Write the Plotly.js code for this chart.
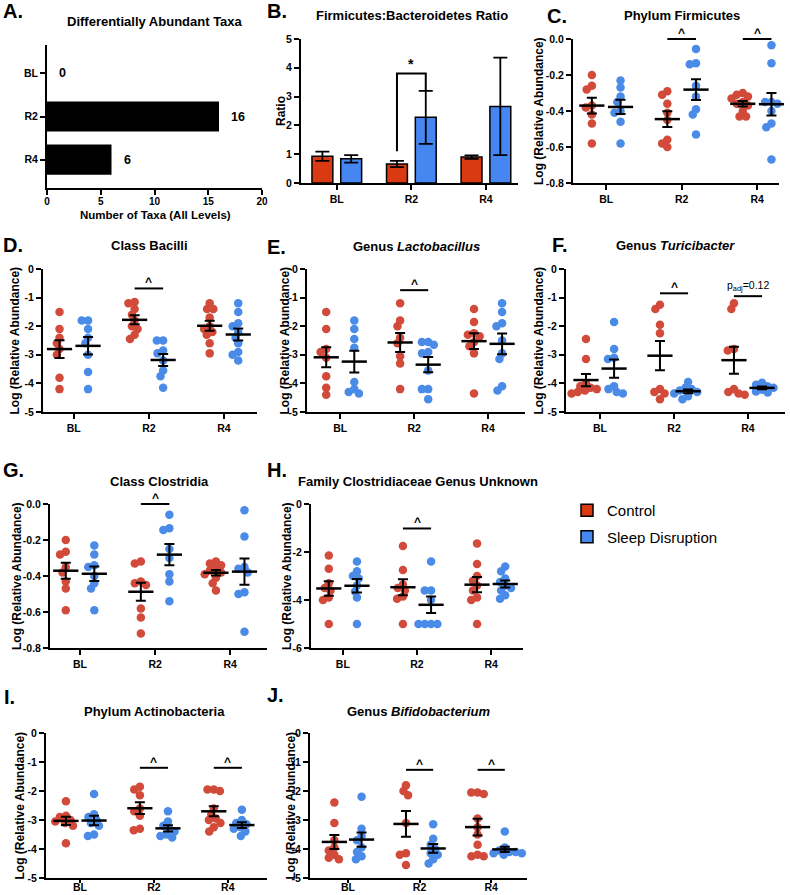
<!DOCTYPE html>
<html><head><meta charset="utf-8">
<script src="https://cdn.plot.ly/plotly-3.0.1.min.js"></script>
<style>html,body{margin:0;padding:0;background:#fff}#chart{width:790px;height:895px}</style>
</head><body><div id="chart"></div>
<script>
// ---------------- DATA ----------------
const categories = ['BL', 'R2', 'R4'];
const groupNames = ['Control', 'Sleep Disruption'];

// A. Differentially abundant taxa
const taxaCounts = [0, 16, 6];

// B. Firmicutes:Bacteroidetes ratio (mean, SEM)
const ratioControl = [0.93, 0.66, 0.90];
const ratioControlSem = [0.16, 0.11, 0.06];
const ratioSleep = [0.84, 2.28, 2.66];
const ratioSleepSem = [0.13, 0.92, 1.69];

// C. Phylum Firmicutes  (per time point: BL, R2, R4)
const firmicutesControl = [
  [-0.20, -0.26, -0.28, -0.37, -0.38, -0.42, -0.47, -0.58],
  [-0.29, -0.31, -0.36, -0.41, -0.45, -0.56, -0.58, -0.60],
  [-0.30, -0.31, -0.32, -0.33, -0.35, -0.36, -0.37, -0.40, -0.43, -0.43]];
const firmicutesSleep = [
  [-0.23, -0.27, -0.32, -0.35, -0.40, -0.41, -0.46, -0.58],
  [-0.055, -0.135, -0.14, -0.26, -0.32, -0.39, -0.42, -0.53],
  [-0.035, -0.135, -0.35, -0.35, -0.36, -0.40, -0.47, -0.49, -0.67]];

// D. Class Bacilli
const bacilliControl = [
  [-1.5, -2.1, -2.4, -2.6, -2.8, -3.0, -3.8, -4.2],
  [-1.15, -1.2, -1.4, -1.6, -1.8, -2.0, -2.1, -2.3, -2.45],
  [-1.2, -1.4, -1.4, -1.7, -2.0, -2.1, -2.2, -2.3, -2.6, -2.95]];
const bacilliSleep = [
  [-1.8, -1.8, -2.1, -2.4, -2.6, -3.0, -3.6, -4.2],
  [-2.5, -2.5, -2.85, -2.95, -3.2, -3.55, -3.75, -4.15],
  [-1.2, -1.5, -1.9, -2.0, -2.2, -2.4, -2.6, -2.9, -3.0, -3.2]];

// E. Genus Lactobacillus
const lactobacillusControl = [
  [-1.5, -2.1, -2.8, -2.9, -3.1, -3.75, -4.15, -4.4],
  [-1.2, -1.8, -2.0, -2.4, -2.6, -3.05, -3.3, -4.2],
  [-1.4, -1.85, -2.25, -2.3, -2.35, -2.55, -2.7, -2.95, -4.35]];
const lactobacillusSleep = [
  [-1.8, -2.1, -2.45, -2.75, -3.95, -4.2, -4.3, -4.35],
  [-2.55, -2.55, -2.65, -2.9, -2.95, -3.55, -4.2, -4.2, -4.55],
  [-1.2, -1.5, -1.9, -2.0, -2.5, -2.95, -3.15, -4.1, -4.25]];

// F. Genus Turicibacter
const turicibacterControl = [
  [-2.45, -3.15, -4.0, -4.1, -4.15, -4.2, -4.25, -4.3, -4.35],
  [-1.25, -1.4, -1.95, -2.25, -4.2, -4.3, -4.35, -4.55],
  [-1.2, -1.4, -2.8, -2.85, -4.2, -4.3, -4.35, -4.4]];
const turicibacterSleep = [
  [-1.85, -2.8, -3.1, -3.15, -4.1, -4.2, -4.3, -4.35],
  [-3.95, -4.15, -4.2, -4.25, -4.3, -4.35, -4.45, -4.55],
  [-3.98, -4.05, -4.1, -4.15, -4.22, -4.28, -4.32]];

// G. Class Clostridia
const clostridiaControl = [
  [-0.20, -0.265, -0.28, -0.35, -0.38, -0.43, -0.47, -0.59],
  [-0.32, -0.33, -0.43, -0.44, -0.45, -0.58, -0.63, -0.72],
  [-0.32, -0.33, -0.34, -0.36, -0.37, -0.38, -0.39, -0.41, -0.44, -0.48]];
const clostridiaSleep = [
  [-0.23, -0.28, -0.34, -0.35, -0.40, -0.44, -0.47, -0.59],
  [-0.06, -0.135, -0.145, -0.25, -0.30, -0.39, -0.43, -0.54],
  [-0.035, -0.18, -0.35, -0.36, -0.38, -0.49, -0.50, -0.71]];

// H. Family Clostridiaceae Genus Unknown
const clostridiaceaeControl = [
  [-2.15, -2.7, -3.3, -3.5, -3.6, -3.9, -4.0, -5.0],
  [-1.75, -2.75, -3.35, -3.5, -3.6, -3.85, -3.95, -5.0],
  [-1.65, -2.5, -3.0, -3.2, -3.4, -3.6, -3.9, -4.0, -5.0]];
const clostridiaceaeSleep = [
  [-2.4, -2.8, -3.0, -3.1, -3.4, -3.65, -3.9, -5.0],
  [-2.4, -3.6, -3.6, -4.0, -5.0, -5.0, -5.0, -5.0],
  [-2.6, -2.8, -3.1, -3.25, -3.4, -3.5, -3.6, -3.8, -3.95]];

// I. Phylum Actinobacteria
const actinobacteriaControl = [
  [-2.35, -2.85, -2.9, -3.0, -3.05, -3.1, -3.2, -3.8],
  [-1.85, -1.95, -2.15, -2.6, -2.7, -2.85, -3.3, -3.35],
  [-1.95, -1.95, -2.0, -2.6, -2.8, -2.95, -3.0, -3.1, -3.25, -3.4]];
const actinobacteriaSleep = [
  [-2.1, -2.8, -2.9, -3.0, -3.1, -3.2, -3.5, -3.55],
  [-2.7, -3.05, -3.2, -3.3, -3.4, -3.5, -3.55, -3.6],
  [-2.65, -3.0, -3.1, -3.15, -3.25, -3.3, -3.4, -3.55]];

// J. Genus Bifidobacterium
const bifidobacteriumControl = [
  [-2.4, -3.1, -3.7, -3.95, -4.05, -4.2, -4.3, -4.35],
  [-1.8, -2.0, -2.15, -3.1, -4.15, -4.2, -4.55],
  [-2.05, -2.05, -2.1, -2.95, -3.25, -3.5, -3.85, -4.2, -4.25, -4.25]];
const bifidobacteriumSleep = [
  [-2.2, -3.3, -3.55, -3.7, -3.95, -4.1, -4.25, -4.35],
  [-3.15, -3.65, -3.85, -4.0, -4.15, -4.2, -4.35, -4.5],
  [-3.4, -3.95, -4.05, -4.1, -4.1, -4.15, -4.15, -4.2]];

// significance marks: panel, time point index, level, label
const sigPanels = ['C', 'C', 'D', 'E', 'F', 'F', 'G', 'H', 'I', 'I', 'J', 'J'];
const sigCats = [1, 2, 1, 1, 1, 2, 1, 1, 1, 2, 1, 2];
const sigLevels = [0.0, 0.0, -0.68, -0.74, -0.85, -0.95, 0.0, -1.02, -1.2, -1.2, -1.27, -1.27];
const sigLabels = ['^', '^', '^', '^', '^', 'p<sub>adj</sub>=0.12', '^', '^', '^', '^', '^', '^'];

// ---------------- STYLE / LAYOUT ----------------
const FONT = 'Liberation Sans, Arial, Helvetica, sans-serif';
const RED_BAR = '#d93a12', BLUE_BAR = '#4686f0';
const RED_DOT = '#d14a3a', BLUE_DOT = '#4b8be8';
const W = 790, H = 895;
const GOFF = 0.19; // group offset within a time point (category units)

// pixel geometry of each panel (layout only)
const geo = {
  A: {ax: 1, x: [47, 262], y: [45, 188]},
  B: {ax: 2, x: [301, 518], y: [39, 183], xr: [-0.48, 2.43]},
  C: {ax: 3, x: [573, 779], y: [39, 183], xr: [-0.44, 2.29]},
  D: {ax: 4, x: [43, 257], y: [269, 412], xr: [-0.41, 2.44]},
  E: {ax: 5, x: [307, 525], y: [269, 412], xr: [-0.45, 2.5]},
  F: {ax: 6, x: [566, 785], y: [269, 412], xr: [-0.46, 2.5]},
  G: {ax: 7, x: [50, 267], y: [504, 648], xr: [-0.4, 2.49]},
  H: {ax: 8, x: [311, 523], y: [504, 648], xr: [-0.43, 2.43]},
  I: {ax: 9, x: [46, 267], y: [733, 878], xr: [-0.46, 2.53], tight: true},
  J: {ax: 10, x: [310, 527], y: [733, 878], xr: [-0.53, 2.5], tight: true}
};
// title / letter / y-title positions (pixels)
const labelsPos = {
  A: {t: [155, 22], l: [1, 11], yt: null},
  B: {t: [412, 16], l: [265, 11], yt: 281},
  C: {t: [682, 16], l: [545, 16], yt: 539},
  D: {t: [149, 245], l: [1, 245], yt: 15},
  E: {t: [416, 246], l: [265, 247], yt: 285},
  F: {t: [675, 245], l: [550, 245], yt: 539},
  G: {t: [159, 481], l: [1, 470], yt: 17},
  H: {t: [418, 481], l: [265, 470], yt: 287},
  I: {t: [154, 711], l: [2, 697], yt: 19},
  J: {t: [418, 711], l: [265, 695], yt: 290}
};

const scatterPanels = [
  {key: 'C', ctrl: firmicutesControl, sleep: firmicutesSleep, title: 'Phylum Firmicutes', yr: [-0.8, 0], dt: 0.2, dec: 1},
  {key: 'D', ctrl: bacilliControl, sleep: bacilliSleep, title: 'Class Bacilli', yr: [-5, 0], dt: 1, dec: 0},
  {key: 'E', ctrl: lactobacillusControl, sleep: lactobacillusSleep, title: 'Genus <i>Lactobacillus</i>', yr: [-5, 0], dt: 1, dec: 0},
  {key: 'F', ctrl: turicibacterControl, sleep: turicibacterSleep, title: 'Genus <i>Turicibacter</i>', yr: [-5, 0], dt: 1, dec: 0},
  {key: 'G', ctrl: clostridiaControl, sleep: clostridiaSleep, title: 'Class Clostridia', yr: [-0.8, 0], dt: 0.2, dec: 1},
  {key: 'H', ctrl: clostridiaceaeControl, sleep: clostridiaceaeSleep, title: 'Family Clostridiaceae Genus Unknown', yr: [-6, 0], dt: 2, dec: 0},
  {key: 'I', ctrl: actinobacteriaControl, sleep: actinobacteriaSleep, title: 'Phylum Actinobacteria', yr: [-5, 0], dt: 1, dec: 0},
  {key: 'J', ctrl: bifidobacteriumControl, sleep: bifidobacteriumSleep, title: 'Genus <i>Bifidobacterium</i>', yr: [-5, 0], dt: 1, dec: 0}
];

function sfx(n) { return n === 1 ? '' : String(n); }
function domX(p) { return [p[0] / W, p[1] / W]; }
function domY(p) { return [1 - p[1] / H, 1 - p[0] / H]; }
function mean(a) { return a.reduce((s, v) => s + v, 0) / a.length; }
function sem(a) {
  const m = mean(a);
  const sd = Math.sqrt(a.reduce((s, v) => s + (v - m) * (v - m), 0) / (a.length - 1));
  return sd / Math.sqrt(a.length);
}
// deterministic beeswarm offsets (pixels)
function swarm(vals, pxPerY, D) {
  const order = vals.map((v, i) => i).sort((a, b) => vals[b] - vals[a]);
  const placed = [], off = new Array(vals.length);
  order.forEach(i => {
    const y = vals[i] * pxPerY;
    const ivs = [];
    placed.forEach(p => {
      const d = Math.abs(p.y - y);
      if (d < D) { const w = Math.sqrt(D * D - d * d); ivs.push([p.x - w, p.x + w]); }
    });
    const cands = [0];
    ivs.forEach(v => cands.push(v[0], v[1]));
    cands.sort((a, b) => (Math.abs(a) - Math.abs(b)) || (a - b));
    let best = 0;
    for (const c of cands) {
      if (ivs.every(v => c <= v[0] + 1e-6 || c >= v[1] - 1e-6)) { best = c; break; }
    }
    off[i] = best; placed.push({x: best, y: y});
  });
  return off;
}

const tickFont = {family: FONT, size: 10.5, color: '#000', weight: 'bold'};
function baseAxis() {
  return {showline: true, linecolor: '#000', linewidth: 2, ticks: 'outside', ticklen: 5, tickwidth: 2,
    tickcolor: '#000', showgrid: false, zeroline: false, tickfont: tickFont, fixedrange: true};
}

const traces = [];
const layout = {
  width: W, height: H, margin: {l: 0, r: 0, t: 0, b: 0},
  paper_bgcolor: '#fff', plot_bgcolor: 'rgba(0,0,0,0)',
  barmode: 'overlay', showlegend: true,
  font: {family: FONT, color: '#000'},
  legend: {x: 567 / W, y: 1 - 494 / H, xanchor: 'left', yanchor: 'top', traceorder: 'grouped',
    tracegroupgap: 4, font: {family: FONT, size: 15, color: '#000'}, bgcolor: 'rgba(0,0,0,0)'},
  annotations: [], shapes: []
};

// ---- Panel A ----
(function () {
  const g = geo.A;
  traces.push({type: 'bar', orientation: 'h', x: taxaCounts, y: categories.map((c, i) => i), width: 0.7,
    marker: {color: '#000', line: {width: 0}}, xaxis: 'x', yaxis: 'y', showlegend: false, hoverinfo: 'x'});
  layout.xaxis = Object.assign(baseAxis(), {domain: domX(g.x), range: [0, 20], tickvals: [0, 5, 10, 15, 20], anchor: 'y',
    tickfont: Object.assign({}, tickFont, {size: 10}), ticklabelstandoff: -2});
  layout.yaxis = Object.assign(baseAxis(), {domain: domY(g.y), range: [2.66, -0.66], tickvals: [0, 1, 2], ticktext: categories, anchor: 'x'});
  taxaCounts.forEach((v, i) => layout.annotations.push({xref: 'x', yref: 'y', x: v, y: i, text: String(v), showarrow: false,
    xanchor: 'left', xshift: 10, font: {family: FONT, size: 12.5, weight: 'bold', color: '#000'}}));
  layout.annotations.push({xref: 'paper', yref: 'paper', x: 155 / W, y: 1 - 215 / H, text: 'Number of Taxa (All Levels)',
    showarrow: false, xanchor: 'center', yanchor: 'middle', font: {family: FONT, size: 11.5, weight: 'bold', color: '#000'}});
})();

// ---- Panel B ----
(function () {
  const g = geo.B;
  const xs = categories.map((c, i) => i);
  traces.push({type: 'bar', x: xs, y: ratioControl, name: groupNames[0], width: 0.28, offset: -0.333,
    marker: {color: RED_BAR, line: {color: '#000', width: 1.5}},
    error_y: {type: 'data', array: ratioControlSem, visible: true, color: '#000', thickness: 1.8, width: 7},
    xaxis: 'x2', yaxis: 'y2', legendgroup: 'c'});
  traces.push({type: 'bar', x: xs, y: ratioSleep, name: groupNames[1], width: 0.28, offset: 0.053,
    marker: {color: BLUE_BAR, line: {color: '#000', width: 1.5}},
    error_y: {type: 'data', array: ratioSleepSem, visible: true, color: '#000', thickness: 1.8, width: 7},
    xaxis: 'x2', yaxis: 'y2', legendgroup: 's'});
  layout.xaxis2 = Object.assign(baseAxis(), {domain: domX(g.x), range: g.xr, tickvals: xs, ticktext: categories, anchor: 'y2'});
  layout.yaxis2 = Object.assign(baseAxis(), {domain: domY(g.y), range: [0, 5], tickvals: [0, 1, 2, 3, 4, 5], anchor: 'x2'});
  // significance bracket at R2
  const c = 1;
  const xl = c - 0.333 + 0.14, xrr = c + 0.053 + 0.14;
  const yStart = ratioControl[c] + ratioControlSem[c] + 0.33;
  const yEnd = ratioSleep[c] + ratioSleepSem[c];
  const yTop = yEnd + 0.6;
  layout.shapes.push({type: 'path', xref: 'x2', yref: 'y2',
    path: `M${xl},${yStart} L${xl},${yTop} L${xrr},${yTop} L${xrr},${yEnd}`, line: {color: '#000', width: 2}});
  layout.annotations.push({xref: 'x2', yref: 'y2', x: (xl + xrr) / 2, y: yTop, text: '*', showarrow: false,
    yanchor: 'bottom', yshift: 0, font: {family: FONT, size: 14, weight: 'bold', color: '#000'}});
})();

// ---- Scatter panels C–J ----
scatterPanels.forEach(p => {
  const g = geo[p.key];
  const s = sfx(g.ax);
  const xa = 'x' + s, ya = 'y' + s;
  const pxPerY = (g.y[1] - g.y[0]) / (p.yr[1] - p.yr[0]);
  const pxPerX = (g.x[1] - g.x[0]) / (g.xr[1] - g.xr[0]);
  [[p.ctrl, -GOFF, RED_DOT], [p.sleep, GOFF, BLUE_DOT]].forEach(([grp, go, col]) => {
    const xs = [], ys = [];
    grp.forEach((vals, ci) => {
      const off = swarm(vals, pxPerY, 6.3);
      vals.forEach((v, k) => { xs.push(ci + go + off[k] / pxPerX); ys.push(v); });
    });
    traces.push({type: 'scatter', mode: 'markers', x: xs, y: ys, xaxis: xa, yaxis: ya, showlegend: false,
      marker: {color: col, size: 8.5, line: {width: 0}}, cliponaxis: false, hoverinfo: 'y'});
  });
  [[p.ctrl, -GOFF], [p.sleep, GOFF]].forEach(([grp, go]) => {
    traces.push({type: 'scatter', mode: 'markers', x: grp.map((v, ci) => ci + go), y: grp.map(mean),
      xaxis: xa, yaxis: ya, showlegend: false, cliponaxis: false, hoverinfo: 'y',
      marker: {symbol: 'line-ew', size: 18, color: '#000', line: {color: '#000', width: 2.5}},
      error_y: {type: 'data', array: grp.map(sem), visible: true, color: '#000', thickness: 2, width: 5}});
  });
  const tv = [], tt = [];
  const nT = Math.round((p.yr[1] - p.yr[0]) / p.dt);
  for (let k = 0; k <= nT; k++) {
    const v = Math.round((p.yr[0] + k * p.dt) * 10) / 10;
    tv.push(v); tt.push(v.toFixed(p.dec));
  }
  const xAx = Object.assign(baseAxis(), {domain: domX(g.x), range: g.xr, tickvals: [0, 1, 2], ticktext: categories, anchor: ya});
  if (g.tight) { xAx.ticklen = 3; xAx.ticklabelstandoff = -5; }
  layout['xaxis' + s] = xAx;
  layout['yaxis' + s] = Object.assign(baseAxis(), {domain: domY(g.y), range: p.yr, tickvals: tv, ticktext: tt, anchor: xa});
  const lp = labelsPos[p.key];
  layout.annotations.push({xref: 'paper', yref: 'paper', x: lp.t[0] / W, y: 1 - lp.t[1] / H, text: p.title, showarrow: false,
    xanchor: 'center', yanchor: 'middle', font: {family: FONT, size: 13, weight: 'bold', color: '#000'}});
});

// significance marks
sigPanels.forEach((pk, i) => {
  const g = geo[pk];
  const s = sfx(g.ax);
  const yr = scatterPanels.find(p => p.key === pk).yr;
  const c = sigCats[i];
  layout.shapes.push({type: 'line', xref: 'x' + s, yref: 'y' + s + ' domain', x0: c - GOFF, x1: c + GOFF,
    y0: (sigLevels[i] - yr[0]) / (yr[1] - yr[0]), y1: (sigLevels[i] - yr[0]) / (yr[1] - yr[0]),
    line: {color: '#000', width: 2}});
  const isCaret = sigLabels[i] === '^';
  layout.annotations.push({xref: 'x' + s, yref: 'y' + s, x: c, y: sigLevels[i], text: sigLabels[i], showarrow: false,
    xanchor: 'center', yanchor: 'bottom', yshift: isCaret ? -3 : 1,
    font: {family: FONT, size: isCaret ? 12 : 10.5, weight: isCaret ? 'bold' : 'normal', color: '#000'}});
});

// titles for A, B; letters; y-axis titles
layout.annotations.push({xref: 'paper', yref: 'paper', x: labelsPos.A.t[0] / W, y: 1 - labelsPos.A.t[1] / H,
  text: 'Differentially Abundant Taxa', showarrow: false, xanchor: 'center', yanchor: 'middle',
  font: {family: FONT, size: 13, weight: 'bold', color: '#000'}});
layout.annotations.push({xref: 'paper', yref: 'paper', x: labelsPos.B.t[0] / W, y: 1 - labelsPos.B.t[1] / H,
  text: 'Firmicutes:Bacteroidetes Ratio', showarrow: false, xanchor: 'center', yanchor: 'middle',
  font: {family: FONT, size: 13, weight: 'bold', color: '#000'}});
Object.keys(labelsPos).forEach(k => {
  const lp = labelsPos[k];
  layout.annotations.push({xref: 'paper', yref: 'paper', x: lp.l[0] / W, y: 1 - lp.l[1] / H, text: k + '.',
    showarrow: false, xanchor: 'left', yanchor: 'middle', font: {family: FONT, size: 20, weight: 'bold', color: '#000'}});
  if (lp.yt !== null) {
    const g = geo[k];
    layout.annotations.push({xref: 'paper', yref: 'paper', x: lp.yt / W, y: 1 - (g.y[0] + g.y[1]) / 2 / H,
      text: k === 'B' ? 'Ratio' : 'Log (Relative Abundance)', textangle: -90, showarrow: false,
      xanchor: 'center', yanchor: 'middle', font: {family: FONT, size: 12, weight: 'bold', color: '#000'}});
  }
});

Plotly.newPlot('chart', traces, layout, {displayModeBar: false, staticPlot: true});
</script>
</body></html>
